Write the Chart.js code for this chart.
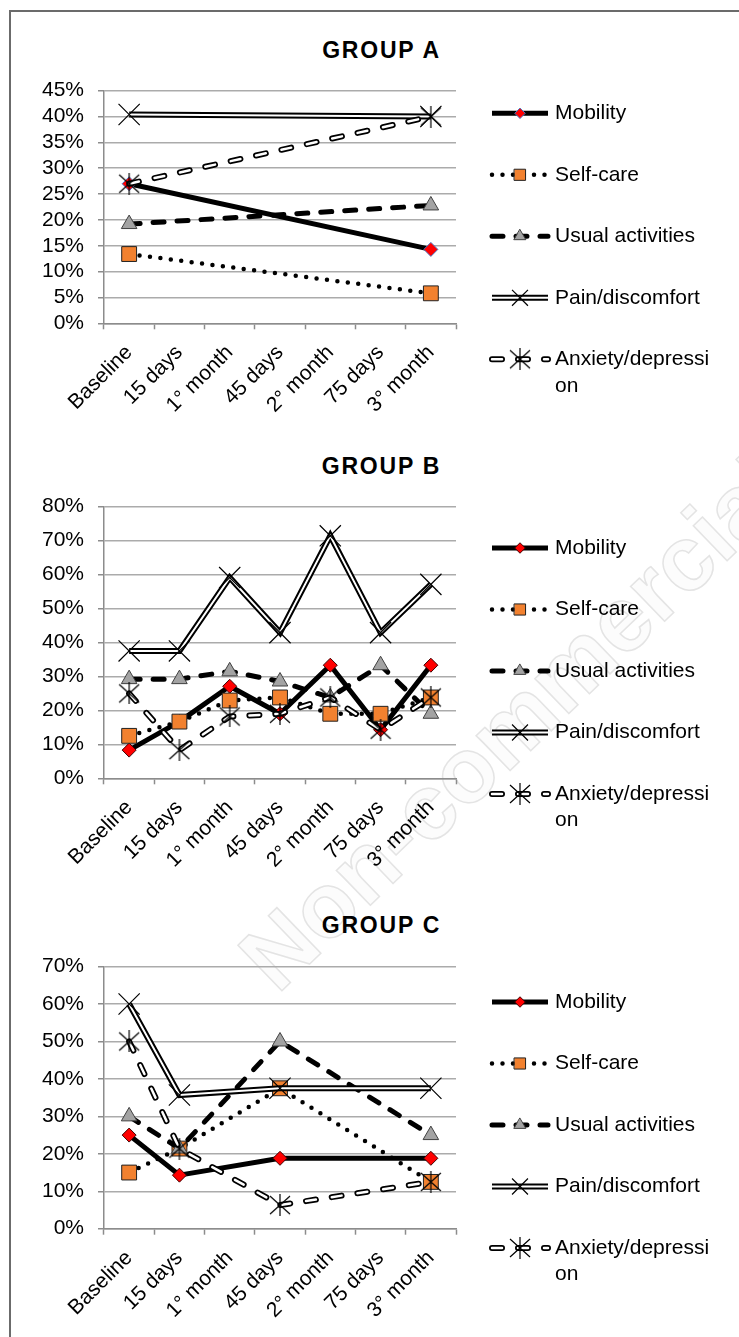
<!DOCTYPE html>
<html>
<head>
<meta charset="utf-8">
<script src="https://cdn.jsdelivr.net/npm/chart.js@4.4.1/dist/chart.umd.min.js"></script>
<style>
  html, body { margin: 0; padding: 0; background: #fff; }
  body { width: 739px; height: 1337px; position: relative; overflow: hidden; font-family: 'Liberation Sans', Arial, sans-serif; }
  #frame { position: absolute; left: 9px; top: 10px; width: 760px; height: 1360px; border-top: 2px solid #6b6b6b; border-left: 2px solid #6b6b6b; }
  .title { position: absolute; left: 0; width: 763px; text-align: center; font-weight: bold; font-size: 23px; line-height: 26px; letter-spacing: 1.8px; color: #000; }
  #mark { position: absolute; left: 515px; top: 722px; transform: translate(-50%, -50%) rotate(-44deg); white-space: nowrap;
          font-size: 92px; font-weight: bold; color: #fcfcfc; -webkit-text-stroke: 1.5px #e4e4e4; }
  canvas { position: absolute; left: 0; }
</style>
</head>
<body>
<div id="mark">Non-commercial</div>
<div id="frame"></div>
<div class="title" style="top:37px">GROUP A</div>
<div class="title" style="top:453px">GROUP B</div>
<div class="title" style="top:912px">GROUP C</div>
<canvas id="chartA" width="739" height="390" style="top:60px"></canvas>
<canvas id="chartB" width="739" height="400" style="top:480px"></canvas>
<canvas id="chartC" width="739" height="397" style="top:940px"></canvas>
<script>
// categorias del eje x
const categories = ['Baseline', '15 days', '1° month', '45 days', '2° month', '75 days', '3° month'];
const seriesNames = ['Mobility', 'Self-care', 'Usual activities', 'Pain/discomfort', 'Anxiety/depression'];

// Grupo A (solo baseline y 3er mes)
const mobilityA = [27.0, null, null, null, null, null, 14.3];
const selfCareA = [13.4, null, null, null, null, null, 5.8];
const usualA    = [19.2, null, null, null, null, null, 22.8];
const painA     = [40.4, null, null, null, null, null, 40.0];
const anxietyA  = [27.0, null, null, null, null, null, 40.0];
const yTicksA   = [0, 5, 10, 15, 20, 25, 30, 35, 40, 45];

// Grupo B
const mobilityB = [8.3, 16.7, 27.1, 19.0, 33.3, 14.3, 33.3];
const selfCareB = [12.5, 16.7, 22.9, 23.8, 19.0, 19.0, 23.8];
const usualB    = [29.2, 29.2, 31.5, 28.5, 23.8, 33.3, 19.0];
const painB     = [37.5, 37.5, 59.1, 42.9, 71.4, 42.9, 57.1];
const anxietyB  = [25.0, 8.3, 18.2, 19.0, 23.8, 14.3, 23.8];
const yTicksB   = [0, 10, 20, 30, 40, 50, 60, 70, 80];

// Grupo C
const mobilityC = [25.0, 14.3, null, 18.8, null, null, 18.8];
const selfCareC = [15.0, 21.4, null, 37.5, null, null, 12.5];
const usualC    = [30.0, 21.4, null, 50.0, null, null, 25.0];
const painC     = [60.0, 35.7, null, 37.5, null, null, 37.5];
const anxietyC  = [50.0, 21.4, null, 6.3, null, null, 12.5];
const yTicksC   = [0, 10, 20, 30, 40, 50, 60, 70];

const FONT = { family: "'Liberation Sans', Arial, sans-serif", size: 21 };

// marcador "estrella" tipo Excel (X + barra vertical)
function makeStar() {
    const c = document.createElement('canvas');
    c.width = 22; c.height = 22;
    const g = c.getContext('2d');
    g.strokeStyle = '#000';
    g.lineWidth = 1.2;
    g.beginPath();
    g.moveTo(1, 2); g.lineTo(21, 20);
    g.moveTo(21, 2); g.lineTo(1, 20);
    g.moveTo(11, 0); g.lineTo(11, 22);
    g.stroke();
    return c;
}
const star = makeStar();

// estilo de cada serie (capas de linea: negra abajo, blanca encima)
const styles = [
    { layers: [{ width: 5, color: '#000' }], dash: [], cap: 'butt', join: 'round',
      point: 'rectRot', radius: 7, fill: '#ff0000', edge: '#400000', edgeWidth: 1 },
    { layers: [{ width: 4.5, color: '#000' }], dash: [0, 10.5], cap: 'round', join: 'round',
      point: 'rect', radius: 10.5, fill: '#f2812f', edge: '#222', edgeWidth: 1 },
    { layers: [{ width: 5, color: '#000' }], dash: [11, 13], cap: 'round', join: 'round',
      point: 'triangle', radius: 9, fill: '#a3a3a3', edge: '#404040', edgeWidth: 1 },
    { layers: [{ width: 6, color: '#000' }, { width: 2, color: '#fff' }], dash: [], cap: 'butt', join: 'miter',
      point: 'crossRot', radius: 15, fill: '#000', edge: '#000', edgeWidth: 1.2 },
    { layers: [{ width: 6, color: '#000' }, { width: 2.5, color: '#fff' }], dash: [10, 16], cap: 'round', join: 'round',
      point: star, radius: 11, fill: '#000', edge: '#000', edgeWidth: 1 }
];

function buildDatasets(values, diamondEdge) {
    const sets = [];
    let k = 0;
    values.forEach((data, i) => {
        const st = styles[i];
        st.layers.forEach((layer, j) => {
            const top = j === st.layers.length - 1;
            sets.push({
                label: seriesNames[i],
                data: data,
                borderColor: layer.color,
                borderWidth: layer.width,
                borderDash: st.dash,
                borderCapStyle: st.cap,
                borderJoinStyle: st.join,
                spanGaps: true,
                tension: 0,
                fill: false,
                pointStyle: st.point,
                pointRadius: top ? st.radius : 0,
                pointHoverRadius: top ? st.radius : 0,
                pointBackgroundColor: st.fill,
                pointBorderColor: i === 0 ? diamondEdge : st.edge,
                pointBorderWidth: st.edgeWidth,
                order: 100 - k++
            });
        });
    });
    return sets;
}

function wrapText(ctx, text, maxW) {
    const lines = [];
    let cur = '';
    for (const ch of text) {
        if (cur && ctx.measureText(cur + ch).width > maxW) {
            lines.push(cur);
            cur = ch;
        } else {
            cur += ch;
        }
    }
    lines.push(cur);
    return lines;
}

// leyenda a la derecha, dibujada a mano
const sideLegend = {
    id: 'sideLegend',
    afterDraw(chart, args, opts) {
        const ctx = chart.ctx;
        ctx.save();
        let y = opts.y;
        seriesNames.forEach((name, i) => {
            const st = styles[i];
            st.layers.forEach(layer => {
                ctx.beginPath();
                ctx.setLineDash(st.dash);
                ctx.lineCap = st.cap;
                ctx.lineWidth = layer.width;
                ctx.strokeStyle = layer.color;
                ctx.moveTo(492, y);
                ctx.lineTo(548, y);
                ctx.stroke();
            });
            ctx.setLineDash([]);
            ctx.fillStyle = st.fill;
            ctx.strokeStyle = i === 0 ? opts.diamondEdge : st.edge;
            ctx.lineWidth = st.edgeWidth;
            const r = typeof st.point === 'string' ? st.radius * 0.75 : st.radius;
            ctx.beginPath();
            Chart.helpers.drawPoint(ctx, { pointStyle: st.point, radius: r, rotation: 0, borderWidth: st.edgeWidth }, 520, y);

            ctx.fillStyle = '#000';
            ctx.font = FONT.size + 'px ' + FONT.family;
            ctx.textBaseline = 'middle';
            ctx.textAlign = 'left';
            wrapText(ctx, name, 162).forEach((line, n) => {
                ctx.fillText(line, 555, y + n * 26.5);
            });
            y += 61.5;
        });
        ctx.restore();
    }
};

function makeChart(id, values, yTicks, geom) {
    new Chart(document.getElementById(id), {
        type: 'line',
        data: { labels: categories, datasets: buildDatasets(values, geom.diamondEdge) },
        options: {
            responsive: false,
            animation: false,
            events: [],
            layout: { padding: { top: geom.plotTop - geom.top, right: 739 - 456, left: 0, bottom: 0 } },
            plugins: {
                legend: { display: false },
                tooltip: { enabled: false },
                sideLegend: { y: geom.legendTop - geom.top, diamondEdge: geom.diamondEdge }
            },
            scales: {
                x: {
                    offset: true,
                    grid: { offset: true, drawOnChartArea: false, drawTicks: true, tickLength: 6, tickColor: '#8c8c8c', tickWidth: 1.5 },
                    border: { color: '#8c8c8c', width: 1.5 },
                    ticks: { font: FONT, color: '#000', minRotation: 45, maxRotation: 45, padding: 11, autoSkip: false },
                    afterFit: s => { s.height = geom.top + geom.height - geom.plotBottom; }
                },
                y: {
                    min: yTicks[0],
                    max: yTicks[yTicks.length - 1],
                    afterBuildTicks: s => { s.ticks = yTicks.map(v => ({ value: v })); },
                    ticks: { font: FONT, color: '#000', padding: 14, autoSkip: false, callback: v => v + '%' },
                    grid: { color: '#ababab', lineWidth: 1.5, tickLength: 6, tickColor: '#8c8c8c', tickWidth: 1.5 },
                    border: { color: '#8c8c8c', width: 1.5 },
                    afterFit: s => { s.width = 104; }
                }
            }
        },
        plugins: [sideLegend]
    });
}

makeChart('chartA', [mobilityA, selfCareA, usualA, painA, anxietyA], yTicksA,
    { top: 60, height: 390, plotTop: 90.7, plotBottom: 323.3, legendTop: 113.3, diamondEdge: '#4a76c0' });
makeChart('chartB', [mobilityB, selfCareB, usualB, painB, anxietyB], yTicksB,
    { top: 480, height: 400, plotTop: 505.7, plotBottom: 778.3, legendTop: 548, diamondEdge: '#400000' });
makeChart('chartC', [mobilityC, selfCareC, usualC, painC, anxietyC], yTicksC,
    { top: 940, height: 397, plotTop: 965, plotBottom: 1228.7, legendTop: 1002, diamondEdge: '#400000' });
</script>
</body>
</html>
